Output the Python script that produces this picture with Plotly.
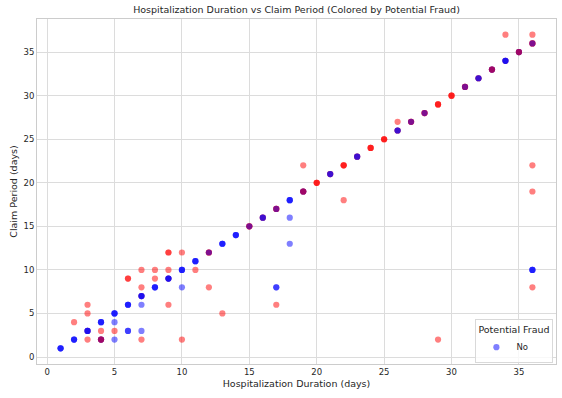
import plotly.graph_objects as go

# Hospitalization duration (days) and claim period (days) per plotted location
hosp_days = [1, 2, 3, 4, 5, 6, 7, 8, 9, 10, 11, 12, 13, 14, 15, 16, 17, 18, 19, 20,
             21, 22, 23, 24, 25, 26, 27, 28, 29, 30, 31, 32, 33, 34, 35, 36,
             4,
             3, 7, 10, 4, 5, 2, 3, 3, 9, 7, 12, 8, 7, 8, 9, 11, 10, 13, 17, 19, 22,
             26, 34, 36, 36, 36, 36, 29,
             6, 9,
             5, 7, 5, 7, 10, 18, 18,
             6, 17,
             36]
claim_days = [1, 2, 3, 4, 5, 6, 7, 8, 9, 10, 11, 12, 13, 14, 15, 16, 17, 18, 19, 20,
              21, 22, 23, 24, 25, 26, 27, 28, 29, 30, 31, 32, 33, 34, 35, 36,
              2,
              2, 2, 2, 3, 3, 4, 5, 6, 6, 8, 8, 9, 10, 10, 10, 10, 12, 5, 6, 22, 18,
              27, 37, 37, 22, 19, 8, 2,
              9, 12,
              2, 3, 4, 6, 8, 16, 13,
              3, 8,
              10]
# Potential fraud labels of the claims at each location, in drawing order
fraud_stack = ["NNN", "NNN", "YNNN", "NNN", "NNN", "NNN", "YNNN", "NNN", "YNNN", "NNN",
               "NNN", "YYYN", "NNN", "NNN", "YYYN", "YYNN", "YYYN", "NNN", "YYNNY", "YYY",
               "YYNN", "YYY", "YYNN", "YYY", "YYY", "YYNN", "YYYN", "YYYN", "YYY", "YYY",
               "YYYN", "YYNN", "YYNNY", "YNNN", "YYNNY", "YYYN",
               "YYNNY",
               "Y", "Y", "Y", "Y", "Y", "Y", "Y", "Y", "Y", "Y", "Y", "Y", "Y", "Y", "Y",
               "Y", "Y", "Y", "Y", "Y", "Y",
               "Y", "Y", "Y", "Y", "Y", "Y", "Y",
               "YY", "YY",
               "N", "N", "N", "N", "N", "N", "N",
               "NN", "NN",
               "NNN"]

palette = {"Yes": "red", "No": "blue"}
label = {"Y": "Yes", "N": "No"}

fig = go.Figure()
max_layers = max(len(s) for s in fraud_stack)
legend_done = False
for k in range(max_layers):
    for code in ["Y", "N"]:
        xs, ys = [], []
        for hx, cy, s in zip(hosp_days, claim_days, fraud_stack):
            if k < len(s) and s[k] == code:
                xs.append(hx)
                ys.append(cy)
        if not xs:
            continue
        name = label[code]
        show = (name == "No" and not legend_done)
        if show:
            legend_done = True
        fig.add_trace(go.Scatter(
            x=xs, y=ys, mode="markers", name=name, showlegend=show,
            marker=dict(color=palette[name], size=6.2, opacity=0.5, line=dict(width=0)),
            hoverinfo="x+y+name",
        ))

font_family = "DejaVu Sans"
fig.update_layout(
    width=562, height=398,
    margin=dict(l=37, r=6, t=19, b=34),
    paper_bgcolor="white", plot_bgcolor="white",
    font=dict(family=font_family, size=8.5, color="#262626"),
    title=dict(text="Hospitalization Duration vs Claim Period (Colored by Potential Fraud)",
               x=0.5, xref="paper", xanchor="center", y=0.975, yref="container",
               yanchor="middle", font=dict(size=9.5, color="#262626")),
    legend=dict(title=dict(text="Potential Fraud", font=dict(size=9.5)),
                x=0.995, y=0.002, xanchor="right", yanchor="bottom",
                bgcolor="rgba(255,255,255,0.8)", bordercolor="#d9d9d9", borderwidth=1,
                font=dict(size=8.5), itemsizing="trace", tracegroupgap=0),
    showlegend=True,
)
fig.update_xaxes(range=[-0.75, 37.75], dtick=5, tick0=0, showgrid=True, gridcolor="#dcdcdc",
                 gridwidth=1, zeroline=False, showline=True, linecolor="#cccccc", mirror=True,
                 ticks="", automargin=False,
                 title=dict(text="Hospitalization Duration (days)", font=dict(size=9.5), standoff=4))
fig.update_yaxes(range=[-0.8, 38.8], dtick=5, tick0=0, showgrid=True, gridcolor="#dcdcdc",
                 gridwidth=1, zeroline=False, showline=True, linecolor="#cccccc", mirror=True,
                 ticks="", automargin=False,
                 title=dict(text="Claim Period (days)", font=dict(size=9.5), standoff=4))

fig.write_html("out.html", config={"displayModeBar": False},
               post_script="document.body.style.margin='0';document.body.style.overflow='hidden';")
